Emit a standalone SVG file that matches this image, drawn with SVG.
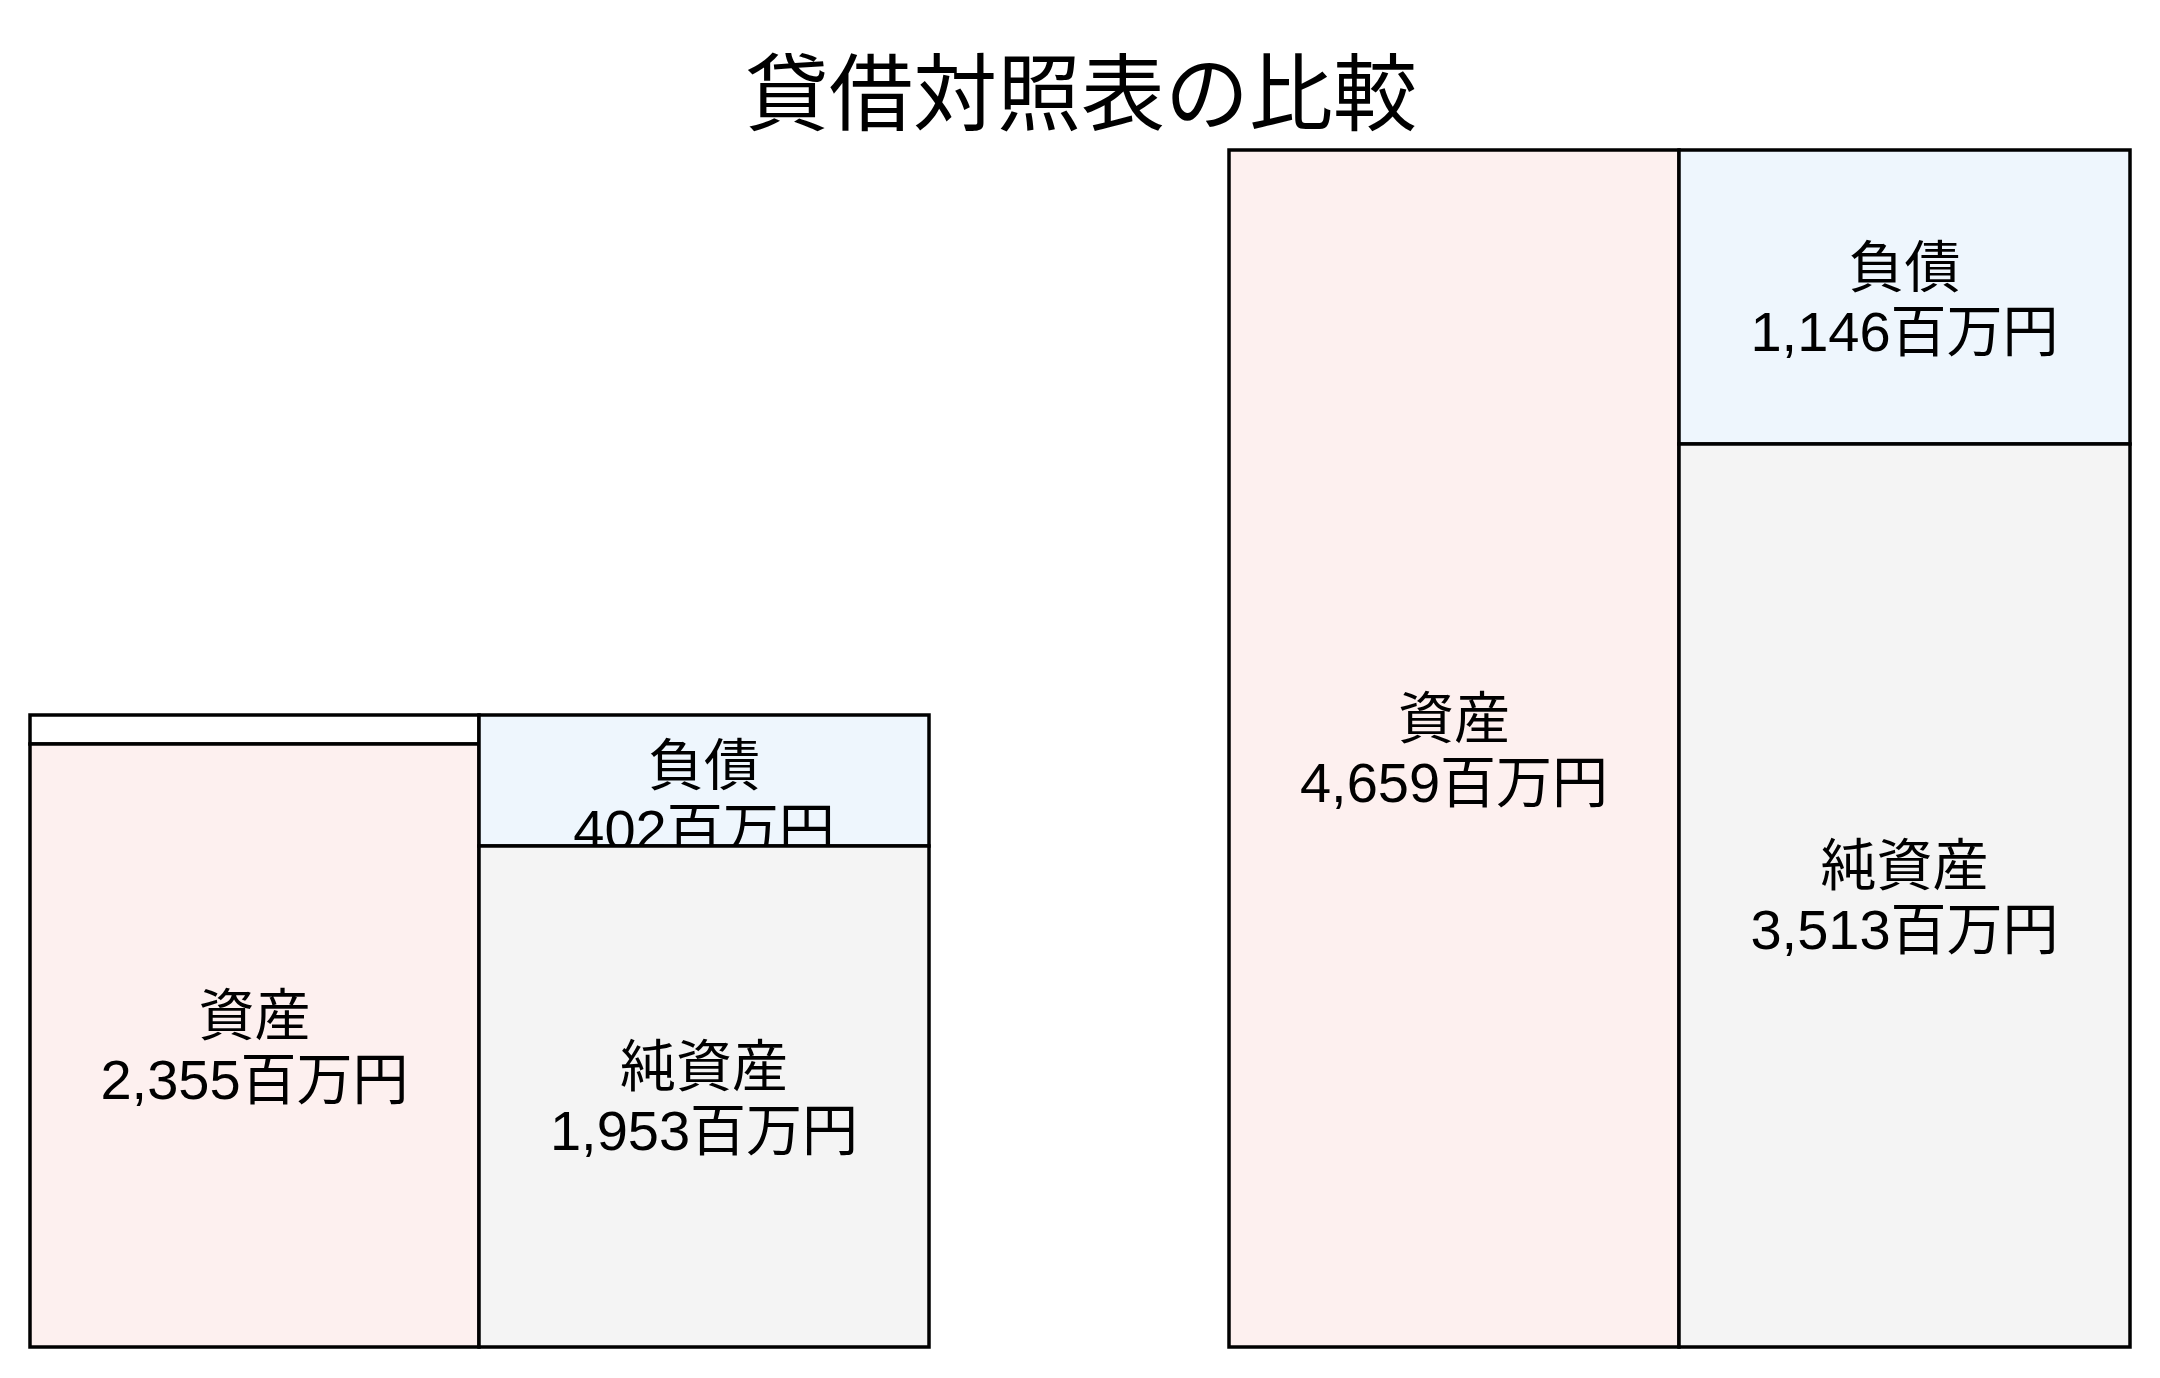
<svg xmlns="http://www.w3.org/2000/svg" width="2160" height="1378" viewBox="0 0 2160 1378">
<style>
text{font-family:"Liberation Sans","Noto Sans CJK JP",sans-serif;fill:#000;text-anchor:middle}
.t{font-size:84px}
.l{font-size:56px}
rect{stroke:#000;stroke-width:3.5}
.asset{fill:#fdf0ef}
.liab{fill:#eef6fd}
.eq{fill:#f4f4f4}
.blank{fill:#ffffff}
</style>
<defs>
<clipPath id="clipL"><rect x="479" y="715" width="450" height="131" style="stroke:none"/></clipPath>
</defs>
<rect x="0" y="0" width="2160" height="1378" style="fill:#fff;stroke:none"/>
<g id="title"><text class="t" x="1081" y="124">貸借対照表の比較</text></g>
<g id="left-blank"><rect class="blank" x="30" y="715" width="449" height="29"/></g>
<g id="left-asset">
<rect class="asset" x="30" y="744" width="449" height="603"/>
<text class="l" x="254.5" y="1035">資産</text>
<text class="l" x="254.5" y="1099">2,355百万円</text>
</g>
<g id="left-liability">
<rect class="liab" x="479" y="715" width="450" height="131"/>
<g clip-path="url(#clipL)">
<text class="l" x="704" y="785">負債</text>
<text class="l" x="704" y="849">402百万円</text>
</g>
</g>
<g id="left-equity">
<rect class="eq" x="479" y="846" width="450" height="501"/>
<text class="l" x="704" y="1086">純資産</text>
<text class="l" x="704" y="1150">1,953百万円</text>
</g>
<g id="right-asset">
<rect class="asset" x="1229" y="150" width="450" height="1197"/>
<text class="l" x="1454" y="738">資産</text>
<text class="l" x="1454" y="802">4,659百万円</text>
</g>
<g id="right-liability">
<rect class="liab" x="1679" y="150" width="451" height="294"/>
<text class="l" x="1904.5" y="287">負債</text>
<text class="l" x="1904.5" y="351">1,146百万円</text>
</g>
<g id="right-equity">
<rect class="eq" x="1679" y="444" width="451" height="903"/>
<text class="l" x="1904.5" y="885">純資産</text>
<text class="l" x="1904.5" y="949">3,513百万円</text>
</g>
<g id="connectors"></g>
</svg>
